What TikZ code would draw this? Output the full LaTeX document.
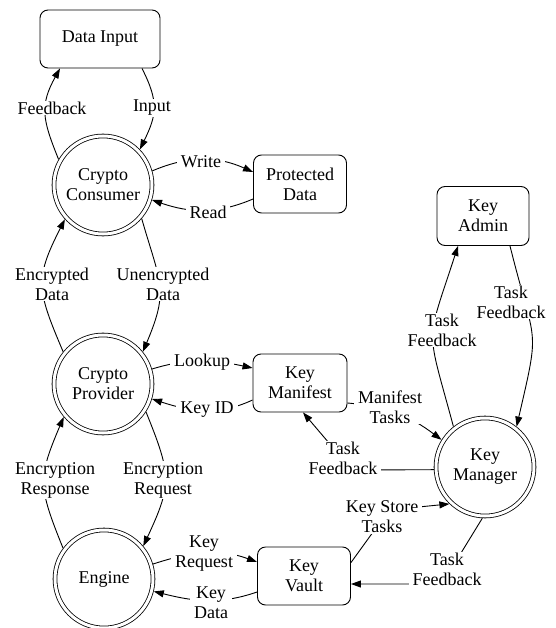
\documentclass[tikz,border=0pt]{standalone}
\usepackage{fontspec}
\setmainfont{Liberation Serif}
\usetikzlibrary{arrows.meta}
\begin{document}
\begin{tikzpicture}[x=1pt,y=1pt,
  every node/.style={font=\fontsize{18}{20}\selectfont},
  proc/.style={circle, draw, double, double distance=3pt, line width=0.8pt, minimum size=98pt, inner sep=1pt, outer sep=2.3pt, align=center},
  store/.style={rectangle, rounded corners=8pt, draw, line width=0.9pt, minimum height=58pt, align=center, inner sep=2pt},
  lbl/.style={fill=white, align=center, inner xsep=4pt, inner ysep=1pt},
  flow/.style={draw, line width=0.9pt, -{Triangle[length=10pt,width=7pt]}}
]
\useasboundingbox (0,0) rectangle (555,-628);
% main nodes
\node[store, minimum width=120pt] (di) at (100,-39) {Data Input};
\node[proc] (cc) at (103,-185) {Crypto\\Consumer};
\node[store, minimum width=93pt] (pd) at (300,-184) {Protected\\Data};
\node[store, minimum width=92pt, minimum height=59pt] (ka) at (483,-216) {Key\\Admin};
\node[proc] (cp) at (103,-384) {Crypto\\Provider};
\node[store, minimum width=94pt] (kmf) at (300,-383) {Key\\Manifest};
\node[proc] (km) at (485,-467) {Key\\Manager};
\node[proc] (en) at (104,-579) {Engine};
\node[store, minimum width=93pt] (kv) at (304,-576) {Key\\Vault};
% connectors
\draw[flow] (cc.150) to[out=112,in=241,looseness=1.2] ([xshift=-40pt]di.south);
\draw[flow] ([xshift=42pt]di.south) to[out=-63,in=64,looseness=1.2] (cc.44);
\draw[flow] (cc.16) to[out=23,in=156] ([yshift=12pt]pd.west);
\draw[flow] ([yshift=-15pt]pd.west) to[out=203,in=-19] (cc.-17);
\draw[flow] (cp.141) to[out=113,in=243,looseness=1.3] (cc.222);
\draw[flow] (cc.-41) to[out=-74,in=67,looseness=1.3] (cp.39);
\draw[flow] (cp.17) to[out=17,in=168] ([yshift=15pt]kmf.west);
\draw[flow] ([yshift=-17pt]kmf.west) to[out=205,in=-18] (cp.-17);
\draw[flow] (en.143) to[out=112,in=247,looseness=1.3] (cp.220);
\draw[flow] (cp.-33) to[out=-68,in=65,looseness=1.3] (en.40);
\draw[flow] (en.17) to[out=18,in=160] ([yshift=14pt]kv.west);
\draw[flow] ([yshift=-16pt]kv.west) to[out=199,in=-14] (en.-14);
\draw[flow] (km.128) to[out=105,in=252,looseness=1.5] ([xshift=-25pt]ka.south);
\draw[flow] ([xshift=27pt]ka.south) to[out=-76,in=77,looseness=1.5] (km.52);
\draw[flow] ([yshift=-20pt]kmf.east) to[out=-5,in=143] (km.148);
\draw[flow] (km.183) -- (352,-470) -- ([xshift=3pt]kmf.south);
\draw[flow] ([yshift=-16pt]kv.north east) -- (389,-510) -- (km.226);
\draw[flow] (km.267) -- (442,-584) -- ([yshift=-8pt]kv.east);
% labels
\node[lbl] (l1) at (52,-108) {Feedback};
\node[lbl] (l2) at (152,-108) {Input};
\node[lbl] (l3) at (201,-162) {Write};
\node[lbl] (l4) at (208,-212) {Read};
\node[lbl] (l5) at (52,-284) {Encrypted\\Data};
\node[lbl] (l6) at (163,-284) {Unencrypted\\Data};
\node[lbl] (l7) at (202,-362) {Lookup};
\node[lbl] (l8) at (207,-410) {Key ID};
\node[lbl] (l9) at (55,-480) {Encryption\\Response};
\node[lbl] (l10) at (163,-480) {Encryption\\Request};
\node[lbl] (l11) at (204,-554) {Key\\Request};
\node[lbl] (l12) at (211,-603) {Key\\Data};
\node[lbl] (l13) at (442,-330) {Task\\Feedback};
\node[lbl] (l14) at (511,-302) {Task\\Feedback};
\node[lbl] (l15) at (390,-407) {Manifest\\Tasks};
\node[lbl] (l16) at (343,-458) {Task\\Feedback};
\node[lbl] (l17) at (382,-517) {Key Store\\Tasks};
\node[lbl] (l18) at (447,-569) {Task\\Feedback};
\end{tikzpicture}
\end{document}
